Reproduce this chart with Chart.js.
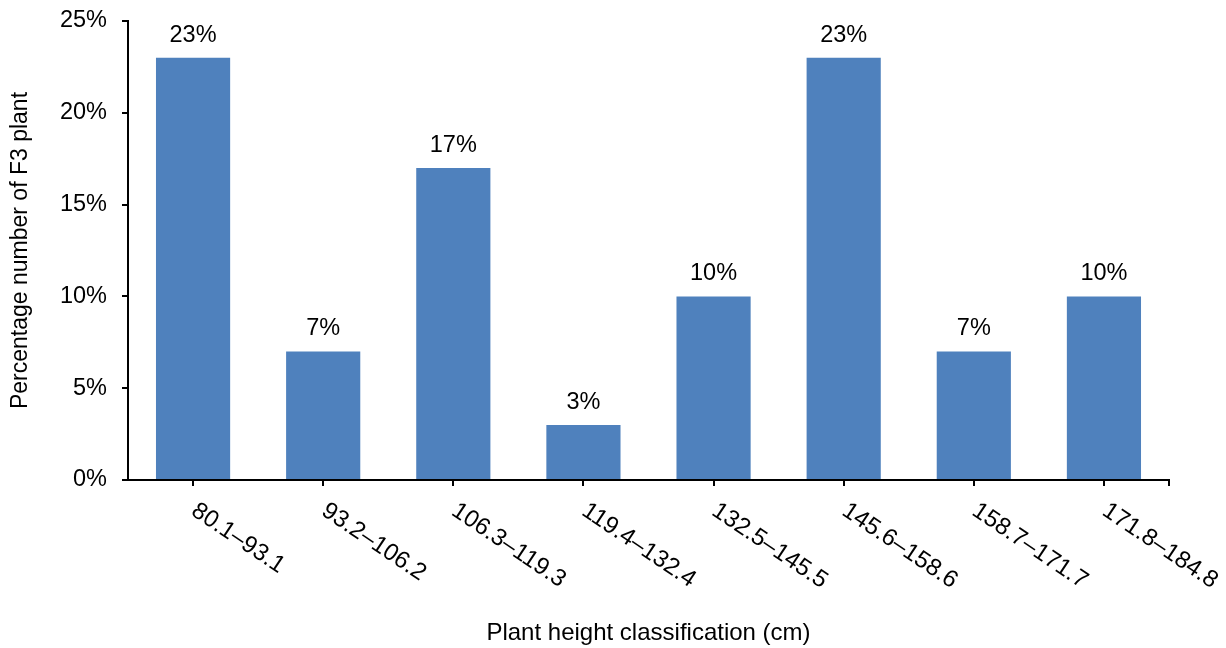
<!DOCTYPE html>
<html>
<head>
<meta charset="utf-8">
<script src="https://cdn.jsdelivr.net/npm/chart.js@4/dist/chart.umd.min.js"></script>
<style>
  html, body { margin: 0; padding: 0; background: #fff; }
  #wrap { width: 1226px; height: 648px; }
</style>
</head>
<body>
<div id="wrap"><canvas id="c" width="1226" height="648"></canvas></div>
<script>
const categories = ['80.1–93.1', '93.2–106.2', '106.3–119.3', '119.4–132.4', '132.5–145.5', '145.6–158.6', '158.7–171.7', '171.8–184.8'];
const percentages = [23, 7, 17, 3, 10, 23, 7, 10];
const yTickValues = [0, 5, 10, 15, 20, 25];
const xTitle = 'Plant height classification (cm)';
const yTitle = 'Percentage number of F3 plant';

const FONT = '"Liberation Sans", Arial, sans-serif';

const labelPlugin = {
  id: 'labels',
  afterDraw(chart) {
    const ctx = chart.ctx;
    const meta = chart.getDatasetMeta(0);
    const xs = chart.scales.x;
    const area = chart.chartArea;
    ctx.save();
    ctx.fillStyle = '#000';
    // value labels above bars
    ctx.font = '23.5px ' + FONT;
    ctx.textAlign = 'center';
    ctx.textBaseline = 'alphabetic';
    meta.data.forEach((bar, i) => {
      ctx.fillText(percentages[i] + '%', bar.x, bar.y - 16);
    });
    // rotated category labels
    ctx.font = '24px ' + FONT;
    categories.forEach((lab, i) => {
      const x = xs.getPixelForValue(i);
      ctx.save();
      ctx.translate(x - 3, area.bottom + 34);
      ctx.rotate(34 * Math.PI / 180);
      ctx.textAlign = 'left';
      ctx.textBaseline = 'alphabetic';
      ctx.fillText(lab, 0, 0);
      ctx.restore();
    });
    // end tick at right of x axis
    ctx.strokeStyle = '#000';
    ctx.lineWidth = 2;
    ctx.beginPath();
    ctx.moveTo(area.right, area.bottom);
    ctx.lineTo(area.right, area.bottom + 6);
    ctx.stroke();
    ctx.restore();
  }
};

new Chart(document.getElementById('c'), {
  type: 'bar',
  data: {
    labels: categories,
    datasets: [{
      data: percentages,
      backgroundColor: '#4F81BD',
      borderWidth: 0,
      categoryPercentage: 1.0,
      barPercentage: 0.57
    }]
  },
  options: {
    responsive: false,
    animation: false,
    devicePixelRatio: 1,
    layout: { padding: { left: 0, right: 57, top: 21, bottom: 0 } },
    plugins: { legend: { display: false }, tooltip: { enabled: false } },
    scales: {
      x: {
        offset: true,
        afterFit(scale) { scale.height = 168; scale.paddingLeft = 0; scale.paddingRight = 0; },
        grid: { offset: false, drawOnChartArea: false, drawTicks: true, tickLength: 6, color: '#000', lineWidth: 2 },
        border: { display: true, color: '#000', width: 2 },
        ticks: { display: false },
        title: { display: true, text: xTitle, color: '#000', font: { family: FONT, size: 24 }, padding: { top: 0, bottom: 0 } }
      },
      y: {
        min: 0,
        max: 25,
        afterFit(scale) { scale.width = 128; scale.paddingTop = 0; scale.paddingBottom = 0; },
        afterBuildTicks(scale) { scale.ticks = yTickValues.map(v => ({ value: v })); },
        grid: { drawOnChartArea: false, drawTicks: true, tickLength: 6, color: '#000', lineWidth: 2 },
        border: { display: true, color: '#000', width: 2 },
        ticks: {
          color: '#000',
          padding: 15,
          font: { family: FONT, size: 23.5 },
          callback: v => v + '%'
        },
        title: { display: true, text: yTitle, color: '#000', font: { family: FONT, size: 23 }, padding: { top: 7, bottom: 0 } }
      }
    }
  },
  plugins: [labelPlugin]
});
</script>
</body>
</html>
